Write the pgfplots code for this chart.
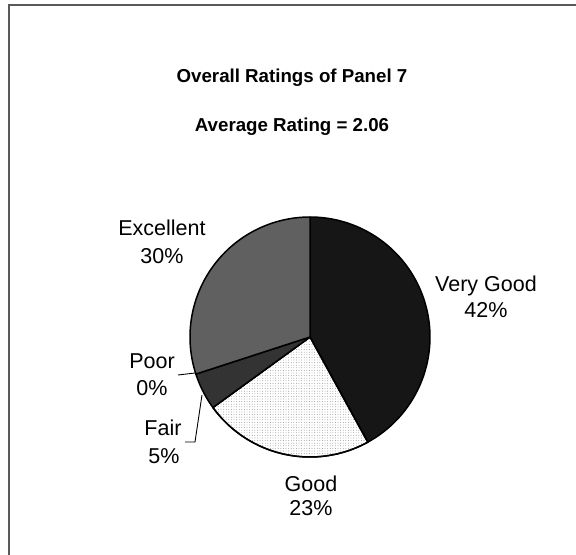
\documentclass[border=0pt]{standalone}
\usepackage{pgfplots}
\usepackage{pgfplotstable}
\pgfplotsset{compat=1.18}
\usepackage{fontspec}
\setmainfont{Liberation Sans}
\usetikzlibrary{patterns.meta}
\definecolor{framegray}{HTML}{5A5A5A}
\definecolor{cVG}{HTML}{161616}
\definecolor{cFair}{HTML}{333333}
\definecolor{cExc}{HTML}{606060}
\pgfplotstableread{
label pct
VeryGood 42
Good 23
Fair 5
Poor 0
Excellent 30
}\ratings
\tikzset{lbl/.style={font=\fontsize{21.5bp}{26bp}\selectfont, anchor=base, inner sep=0pt},
  ttl/.style={font=\bfseries\fontsize{18.7bp}{22bp}\selectfont, anchor=base, inner sep=0pt}}
\begin{document}
\begin{tikzpicture}
\pgfplotstablegetelem{0}{pct}\of\ratings \let\pA\pgfplotsretval
\pgfplotstablegetelem{1}{pct}\of\ratings \let\pB\pgfplotsretval
\pgfplotstablegetelem{2}{pct}\of\ratings \let\pC\pgfplotsretval
\pgfplotstablegetelem{3}{pct}\of\ratings \let\pD\pgfplotsretval
\pgfplotstablegetelem{4}{pct}\of\ratings \let\pE\pgfplotsretval
\pgfmathsetmacro\aZero{90}
\pgfmathsetmacro\aOne{\aZero-3.6*\pA}
\pgfmathsetmacro\aTwo{\aOne-3.6*\pB}
\pgfmathsetmacro\aThree{\aTwo-3.6*\pC}
\pgfmathsetmacro\aFour{\aThree-3.6*\pD}
\pgfmathsetmacro\aFive{\aFour-3.6*\pE}
\def\cx{310}\def\cy{218}\def\r{120}
\begin{axis}[
  anchor=origin, at={(0,0)},
  x=1bp, y=1bp,
  xmin=0, xmax=576, ymin=0, ymax=555,
  hide axis, clip=true,
]
% frame
\addplot[draw=framegray, line width=2bp] coordinates {(9,-20) (9,550) (600,550)};
% wedges
\addplot[fill=cVG, draw=black, line width=1.5bp, line join=round, domain=\aOne:\aZero, samples=80, variable=\t]
  ({\cx+\r*cos(\t)},{\cy+\r*sin(\t)}) -- (\cx,\cy) -- cycle;
\addplot[fill=white, draw=black, line width=1.5bp, line join=round, domain=\aTwo:\aOne, samples=60, variable=\t,
  postaction={pattern={Dots[distance=2.6bp, radius=0.45bp]}, pattern color=black!45}]
  ({\cx+\r*cos(\t)},{\cy+\r*sin(\t)}) -- (\cx,\cy) -- cycle;
\addplot[fill=cFair, draw=black, line width=1.5bp, line join=round, domain=\aThree:\aTwo, samples=20, variable=\t]
  ({\cx+\r*cos(\t)},{\cy+\r*sin(\t)}) -- (\cx,\cy) -- cycle;
\addplot[fill=cExc, draw=black, line width=1.5bp, line join=round, domain=\aFive:\aFour, samples=80, variable=\t]
  ({\cx+\r*cos(\t)},{\cy+\r*sin(\t)}) -- (\cx,\cy) -- cycle;
% leader lines
\addplot[draw=black, line width=0.9bp] coordinates {(195,182) (178,180)};
\addplot[draw=black, line width=0.9bp] coordinates {(202,160) (195,113) (185,113)};
% titles
\node[ttl] at (292,472) {Overall Ratings of Panel 7};
\node[ttl] at (292,423) {Average Rating = 2.06};
% labels
\node[lbl] at (162,320) {Excellent};
\node[lbl] at (162,292) {30\%};
\node[lbl] at (486,264) {Very Good};
\node[lbl] at (486,238) {42\%};
\node[lbl] at (152,187) {Poor};
\node[lbl] at (152,160) {0\%};
\node[lbl] at (163,120) {Fair};
\node[lbl] at (164,92) {5\%};
\node[lbl] at (311,64) {Good};
\node[lbl] at (311,40) {23\%};
\end{axis}
\pgfresetboundingbox
\path[use as bounding box] (0,0) rectangle (576bp,555bp);
\end{tikzpicture}
\end{document}
